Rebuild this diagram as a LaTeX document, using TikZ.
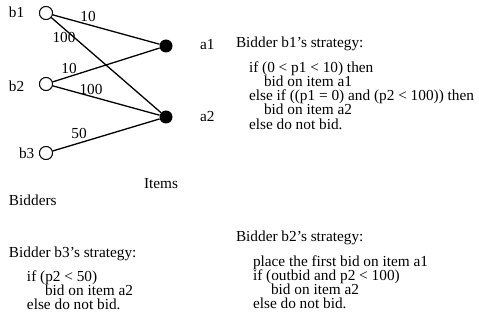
\documentclass[tikz,border=0pt]{standalone}
\usepackage{fontspec}
\setmainfont{Liberation Serif}
\begin{document}
\begin{tikzpicture}[x=1pt,y=-1pt,
  txt/.style={inner sep=0pt,outer sep=0pt,anchor=base west,font=\fontsize{15.3}{16}\selectfont},
  bidder/.style={circle,draw,line width=0.9pt,minimum size=13pt,inner sep=0pt,fill=white},
  item/.style={circle,fill=black,minimum size=13pt,inner sep=0pt},
  edge/.style={line width=1.3pt},
  wt/.style={txt,anchor=base}]
\useasboundingbox (0,0) rectangle (479,326);

% bidders and items
\node[bidder] (b1) at (46,13) {};
\node[bidder] (b2) at (46,84) {};
\node[bidder] (b3) at (46,153) {};
\node[item] (a1) at (166,46) {};
\node[item] (a2) at (166,117) {};

% bids
\draw[edge] (b1) -- (a1);
\draw[edge] (b1) -- (a2);
\draw[edge] (b2) -- (a1);
\draw[edge] (b2) -- (a2);
\draw[edge] (b3) -- (a2);
\foreach \n in {b1,b2,b3} \node[bidder] at (\n) {};

% bid values
\node[wt] (w11) at (88,22) {10};
\node[wt] (w12) at (64,43) {100};
\node[wt] (w21) at (69,74) {10};
\node[wt] (w22) at (91,95) {100};
\node[wt] (w32) at (79,139) {50};

% node labels
\node[txt] (lb1) at (9,18) {b1};
\node[txt] (lb2) at (9,92) {b2};
\node[txt] (lb3) at (19,158) {b3};
\node[txt] (la1) at (200,50) {a1};
\node[txt] (la2) at (200,122) {a2};
\node[txt] (items) at (144,188) {Items};
\node[txt] (bidders) at (9,205) {Bidders};

% strategy of b1
\node[txt] (s1) at (236,48) {Bidder b1's strategy:};
\node[txt] (s1a) at (249,73) {if (0 < p1 < 10) then};
\node[txt] (s1b) at (264,87) {bid on item a1};
\node[txt] (s1c) at (249,101) {else if ((p1 = 0) and (p2 < 100)) then};
\node[txt] (s1d) at (264,115) {bid on item a2};
\node[txt] (s1e) at (249,129) {else do not bid.};

% strategy of b2
\node[txt] (s2) at (236,241) {Bidder b2's strategy:};
\node[txt] (s2a) at (253,266) {place the first bid on item a1};
\node[txt] (s2b) at (253,280) {if (outbid and p2 < 100)};
\node[txt] (s2c) at (271,294) {bid on item a2};
\node[txt] (s2d) at (253,308) {else do not bid.};

% strategy of b3
\node[txt] (s3) at (9,257) {Bidder b3's strategy:};
\node[txt] (s3a) at (27,281) {if (p2 < 50)};
\node[txt] (s3b) at (45,295) {bid on item a2};
\node[txt] (s3c) at (27,309) {else do not bid.};
\end{tikzpicture}
\end{document}
